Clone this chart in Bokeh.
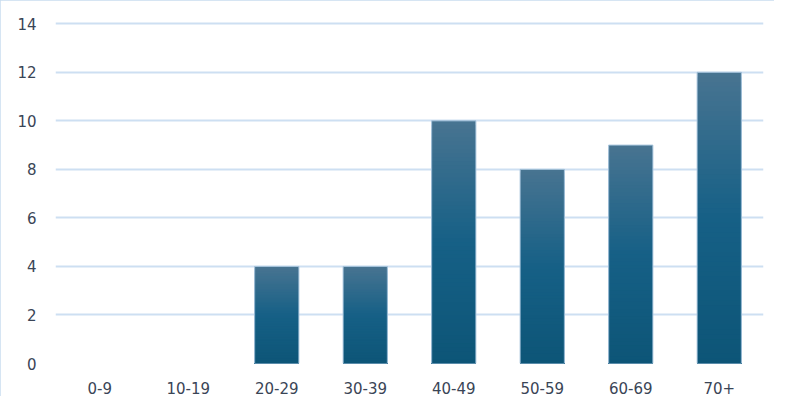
import numpy as np
from bokeh.plotting import figure
from bokeh.models import ColumnDataSource, FactorRange, Range1d, FixedTicker
from bokeh.embed import file_html
from bokeh.resources import INLINE

# Data
categories = ["0-9", "10-19", "20-29", "30-39", "40-49", "50-59", "60-69", "70+"]
counts = [0, 0, 4, 4, 10, 8, 9, 12]
y_ticks = [0, 2, 4, 6, 8, 10, 12, 14]

FONT = "DejaVu Sans"
TEXT_COLOR = "#3a4556"
GRID_COLOR = "#cddff2"

p = figure(
    x_range=FactorRange(factors=categories, range_padding=0),
    y_range=Range1d(0, 14.3),
    width=774, height=396,
    output_backend="svg", toolbar_location=None,
    min_border_left=55, min_border_right=11, min_border_top=16, min_border_bottom=33,
)
p.styles = {"outline": "1px solid #c8dcef", "outline-offset": "-1px"}
p.outline_line_color = None
p.background_fill_color = "white"
p.border_fill_color = "white"

# gradient simulation: nested bars from 0, tallest (lightest top colour) drawn first
N = 60
stops_t = [0.0, 0.5, 1.0]
stops_rgb = np.array([[13, 85, 119], [22, 96, 134], [72, 116, 145]], dtype=float)

def col(t):
    rgb = [np.interp(t, stops_t, stops_rgb[:, i]) for i in range(3)]
    return "#%02x%02x%02x" % tuple(int(round(c)) for c in rgb)

seg_x, seg_t, seg_c = [], [], []
for k in range(N - 1, -1, -1):
    for cat, v in zip(categories, counts):
        if v <= 0:
            continue
        seg_x.append(cat)
        seg_t.append(v * (k + 1) / N)
        seg_c.append(col((k + 0.5) / N))

src = ColumnDataSource(dict(x=seg_x, top=seg_t, color=seg_c))
p.vbar(x="x", bottom=0, top="top", width=0.5, source=src,
       fill_color="color", line_color=None)

nz_cats = [c for c, v in zip(categories, counts) if v > 0]
nz_vals = [v for v in counts if v > 0]
p.vbar(x=nz_cats, top=nz_vals, bottom=0, width=0.5, fill_color=None,
       line_color="#a7c4dc", line_width=1)

# grid
p.xgrid.grid_line_color = None
p.ygrid.grid_line_color = GRID_COLOR
p.ygrid.grid_line_width = 2
p.ygrid.level = "underlay"
p.yaxis.ticker = FixedTicker(ticks=y_ticks)

for ax in (p.xaxis, p.yaxis):
    ax.axis_line_color = None
    ax.major_tick_line_color = None
    ax.minor_tick_line_color = None
    ax.major_label_text_font = FONT
    ax.major_label_text_font_size = "15px"
    ax.major_label_text_color = TEXT_COLOR
p.yaxis.major_label_standoff = 13
p.xaxis.major_label_standoff = 12

open("out.html", "w").write(file_html(p, INLINE))
